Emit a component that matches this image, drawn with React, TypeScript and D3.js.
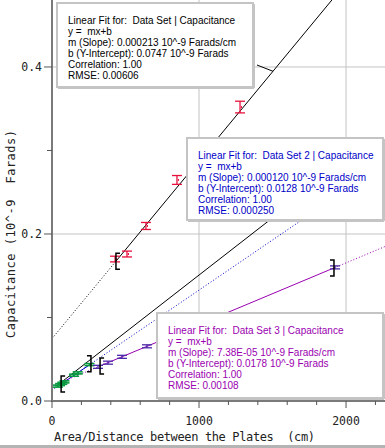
import * as d3 from "d3"

const W = 385
const H = 448
const PLOT = { left: 52, right: 385, top: 0, bottom: 401 }

// Data Set (red)
const set1X = [429, 510, 639, 850, 1279]
const set1Y = [0.17, 0.176, 0.2096, 0.2647, 0.352]
const set1Err = [0.0034, 0.0035, 0.0042, 0.0053, 0.007]

// Data Set 2 (green)
const set2X = [40, 55, 70, 85, 150, 175, 255]
const set2Y = [0.0178, 0.0196, 0.0212, 0.0229, 0.0309, 0.0337, 0.0436]
const set2Err = [0.0012, 0.0012, 0.0012, 0.0012, 0.0012, 0.0012, 0.0012]

// Data Set 3 (purple)
const set3X = [313, 381, 476, 646, 1925]
const set3Y = [0.0409, 0.0459, 0.0529, 0.0655, 0.16]
const set3Err = [0.0018, 0.0018, 0.0018, 0.0018, 0.0018]

// linear fits: slope, intercept, bracketed range
const fitSlope = [0.000213, 0.00012, 0.0000738]
const fitIntercept = [0.0747, 0.0128, 0.0178]
const fitStart = [435, 62, 327]
const fitEnd = [2265, 265, 1918]

// the extra solid black line near Data Set 2
const extraSlope = 0.000137
const extraIntercept = 0.0138
const extraStart = 41
const extraEnd = 2100

const xMajor = [0, 1000, 2000]
const xMinor = [200, 400, 600, 800, 1200, 1400, 1600, 1800, 2200]
const yMajor = [0, 0.2, 0.4]
const yMinor = [0.1, 0.3]

const box1Lines = [
  "Linear Fit for:  Data Set | Capacitance",
  "y =  mx+b",
  "m (Slope): 0.000213 10^-9 Farads/cm",
  "b (Y-Intercept): 0.0747 10^-9 Farads",
  "Correlation: 1.00",
  "RMSE: 0.00606",
]
const box2Lines = [
  "Linear Fit for:  Data Set 2 | Capacitance",
  "y =  mx+b",
  "m (Slope): 0.000120 10^-9 Farads/cm",
  "b (Y-Intercept): 0.0128 10^-9 Farads",
  "Correlation: 1.00",
  "RMSE: 0.000250",
]
const box3Lines = [
  "Linear Fit for:  Data Set 3 | Capacitance",
  "y =  mx+b",
  "m (Slope): 7.38E-05 10^-9 Farads/cm",
  "b (Y-Intercept): 0.0178 10^-9 Farads",
  "Correlation: 1.00",
  "RMSE: 0.00108",
]

const COLORS = ["#000000", "#0000c8", "#9a00b0"]
const MONO = "'DejaVu Sans Mono', monospace"
const SANS = "'Liberation Sans', Arial, sans-serif"

export default function App() {
  const x = d3.scaleLinear().domain([0, 2265]).range([PLOT.left, PLOT.right])
  const y = d3.scaleLinear().domain([0, 0.4802]).range([PLOT.bottom, PLOT.top])
  const line = d3
    .line<[number, number]>()
    .x((d) => x(d[0]))
    .y((d) => y(d[1]))

  const seg = (i: number, a: number, b: number) =>
    line([
      [a, fitSlope[i] * a + fitIntercept[i]],
      [b, fitSlope[i] * b + fitIntercept[i]],
    ]) as string

  const xMax = x.domain()[1]

  const bracket = (i: number, at: number, open: boolean) => {
    const px = x(at)
    const py = y(fitSlope[i] * at + fitIntercept[i])
    const s = open ? 4 : -4
    return (
      <path
        key={`br${i}${open}`}
        d={`M${px + s},${py - 8}H${px}V${py + 8}H${px + s}`}
        fill="none"
        stroke="#000"
        strokeWidth={1.5}
      />
    )
  }

  const errBars = (xs: number[], ys: number[], errs: number[], color: string, cap: number, key: string, width = 1.3) =>
    xs.map((xv, i) => {
      const px = x(xv)
      const top = y(ys[i] + errs[i])
      const bot = y(ys[i] - errs[i])
      return (
        <g key={`${key}${i}`} stroke={color} strokeWidth={width}>
          <line x1={px} x2={px} y1={top} y2={bot} />
          <line x1={px - cap} x2={px + cap} y1={top} y2={top} />
          <line x1={px - cap} x2={px + cap} y1={bot} y2={bot} />
        </g>
      )
    })

  const box = (lines: string[], bx: number, by: number, bw: number, bh: number, color: string, key: string) => (
    <g key={key}>
      <rect x={bx} y={by} width={bw} height={bh} fill="#fff" stroke="#c4c4c4" strokeWidth={2} />
      <line x1={bx + bw + 1} x2={bx + bw + 1} y1={by + 1} y2={by + bh + 1} stroke="#c4c4c4" strokeWidth={2} />
      <line x1={bx + 1} x2={bx + bw + 1} y1={by + bh + 1} y2={by + bh + 1} stroke="#c4c4c4" strokeWidth={2} />
      {lines.map((t, i) => (
        <text
          key={i}
          x={bx + 11}
          y={by + 21 + i * 11}
          fontSize={10}
          fontFamily={SANS}
          fill={color}
          style={{ whiteSpace: "pre" }}
        >
          {t}
        </text>
      ))}
    </g>
  )

  return (
    <svg width={W} height={H} style={{ position: "absolute", left: 0, top: 0, background: "#fff" }}>
      <defs>
        <clipPath id="plot">
          <rect x={PLOT.left} y={PLOT.top} width={PLOT.right - PLOT.left} height={PLOT.bottom - PLOT.top} />
        </clipPath>
      </defs>

      {/* grid */}
      <g stroke="#c4c4c4" strokeWidth={1}>
        {xMajor.slice(1).map((v) => (
          <line key={v} x1={x(v)} x2={x(v)} y1={PLOT.top} y2={PLOT.bottom} />
        ))}
        {yMajor.slice(1).map((v) => (
          <line key={v} x1={PLOT.left} x2={PLOT.right} y1={y(v)} y2={y(v)} />
        ))}
      </g>

      <g clipPath="url(#plot)" fill="none">
        {/* Data Set fit */}
        <path d={seg(0, 0, fitStart[0])} stroke={COLORS[0]} strokeWidth={1} strokeDasharray="1,2" />
        <path d={seg(0, fitStart[0], fitEnd[0])} stroke={COLORS[0]} strokeWidth={1} />
        {/* extra black line */}
        <path
          d={
            line([
              [extraStart, extraSlope * extraStart + extraIntercept],
              [extraEnd, extraSlope * extraEnd + extraIntercept],
            ]) as string
          }
          stroke="#000"
          strokeWidth={1}
        />
        {/* Data Set 2 fit */}
        <path d={seg(1, 0, xMax)} stroke={COLORS[1]} strokeWidth={1} strokeDasharray="1,2" />
        <path d={seg(1, fitStart[1], fitEnd[1])} stroke={COLORS[1]} strokeWidth={1} />
        {/* Data Set 3 fit */}
        <path d={seg(2, 0, fitStart[2])} stroke={COLORS[2]} strokeWidth={1} strokeDasharray="1,2" />
        <path d={seg(2, fitStart[2], fitEnd[2])} stroke={COLORS[2]} strokeWidth={1} />
        <path d={seg(2, fitEnd[2], xMax)} stroke={COLORS[2]} strokeWidth={1} strokeDasharray="1,2" />

        {errBars(set2X, set2Y, set2Err, "#0a9a40", 5, "g", 1.6)}
        {errBars(set3X, set3Y, set3Err, "#4a2aa8", 5, "p", 1.3)}
        {errBars(set1X, set1Y, set1Err, "#e8103c", 5, "r", 1.3)}
        {set1X.map((v, i) => (
          <rect key={`rd${i}`} x={x(v) + 1} y={y(set1Y[i]) - 1} width={1} height={2} fill="#e8103c" />
        ))}

        {bracket(0, fitStart[0], true)}
        {bracket(1, fitStart[1], true)}
        {bracket(1, fitEnd[1], false)}
        {bracket(2, fitStart[2], true)}
        {bracket(2, fitEnd[2], false)}
      </g>

      {/* axes */}
      <g stroke="#7a7a7a" strokeWidth={2}>
        <line x1={PLOT.left} x2={PLOT.left} y1={0} y2={PLOT.bottom + 1} />
        <line x1={PLOT.left - 1} x2={PLOT.right} y1={PLOT.bottom} y2={PLOT.bottom} />
      </g>
      <g stroke="#555" strokeWidth={1}>
        {yMajor.map((v) => (
          <line key={v} x1={PLOT.left - 8} x2={PLOT.left} y1={y(v)} y2={y(v)} />
        ))}
        {yMinor.map((v) => (
          <line key={v} x1={PLOT.left - 5} x2={PLOT.left} y1={y(v)} y2={y(v)} />
        ))}
        {xMajor.map((v) => (
          <line key={v} x1={x(v)} x2={x(v)} y1={PLOT.bottom} y2={PLOT.bottom + 7} />
        ))}
        {xMinor.map((v) => (
          <line key={v} x1={x(v)} x2={x(v)} y1={PLOT.bottom} y2={PLOT.bottom + 4} />
        ))}
      </g>
      <g fontFamily={MONO} fontSize={11.5} fill="#222">
        {yMajor.map((v) => (
          <text key={v} x={PLOT.left - 10} y={y(v) + 4} textAnchor="end">
            {d3.format(".1f")(v)}
          </text>
        ))}
        {xMajor.map((v) => (
          <text key={v} x={x(v)} y={425} textAnchor="middle">
            {v}
          </text>
        ))}
      </g>
      <text
        x={54}
        y={441}
        fontFamily={MONO}
        fontSize={12}
        fill="#222"
        textLength={261}
        lengthAdjust="spacing"
        style={{ whiteSpace: "pre" }}
      >
        Area/Distance between the Plates  (cm)
      </text>
      <text
        transform={`translate(15,${y(0.2)}) rotate(-90)`}
        textAnchor="middle"
        fontFamily={MONO}
        fontSize={12}
        fill="#222"
        textLength={208}
        lengthAdjust="spacing"
        style={{ whiteSpace: "pre" }}
      >
        Capacitance (10^-9  Farads)
      </text>

      {/* fit boxes */}
      {box(box2Lines, 187, 138, 196, 82, COLORS[1], "b2")}
      {box(box3Lines, 157, 313, 226, 85, COLORS[2], "b3")}
      {box(box1Lines, 57, 3, 196, 84, COLORS[0], "b1")}
      <line
        x1={257}
        y1={65}
        x2={x(1503)}
        y2={y(fitSlope[0] * 1503 + fitIntercept[0])}
        stroke="#000"
        strokeWidth={1}
      />

      <rect x={0} y={445} width={W} height={3} fill="#b4b4b4" />
    </svg>
  )
}
